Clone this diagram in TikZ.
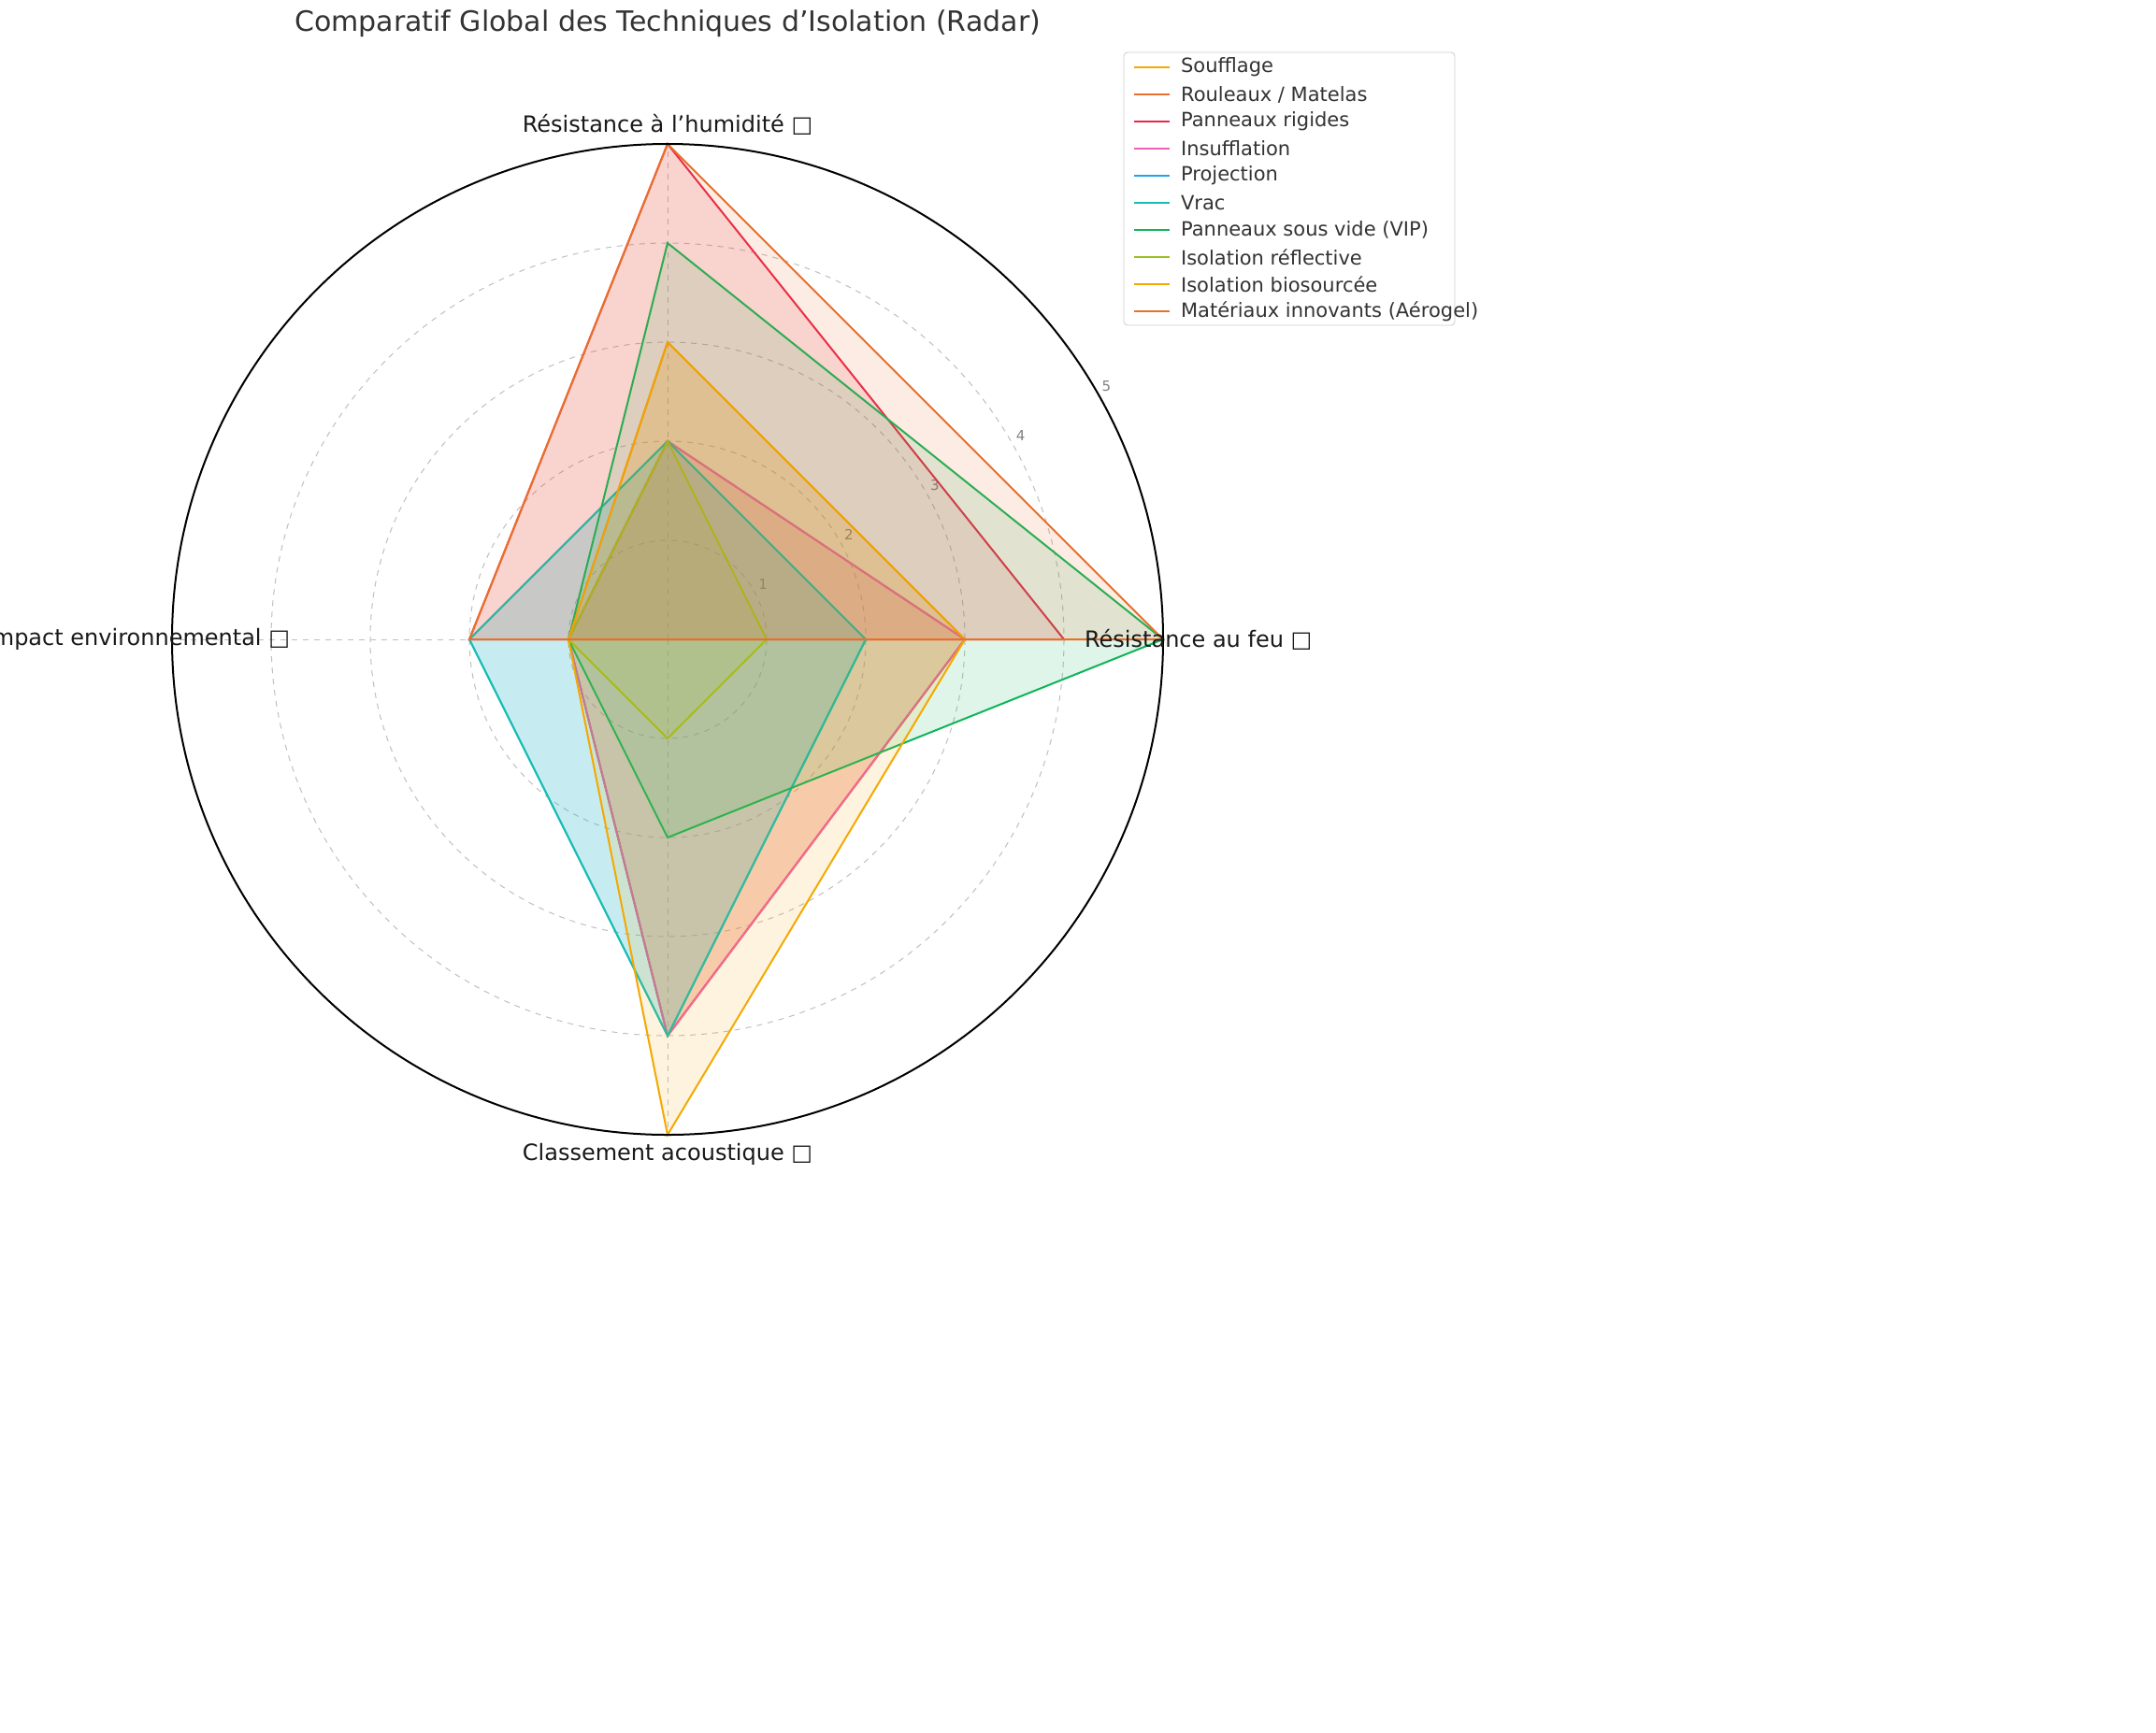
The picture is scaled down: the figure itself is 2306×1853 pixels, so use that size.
\documentclass[tikz,border=0pt]{standalone}
\usepackage{fontspec}
\setmainfont{DejaVu Sans}
\usetikzlibrary{calc}
\begin{document}
\begin{tikzpicture}[x={(0.5pt,0pt)},y={(0pt,-0.5pt)},
  grid/.style={gray!50,dashed,line width=0.5pt},
  lbl/.style={font=\fontsize{12}{14}\selectfont,text=black!90},
  tick/.style={font=\fontsize{7.5}{9}\selectfont,text=gray},
  leg/.style={font=\fontsize{10.5}{12}\selectfont,text=black!80,anchor=west}]
\definecolor{c1}{HTML}{F5A800}
\definecolor{c2}{HTML}{E8702A}
\definecolor{c3}{HTML}{E8254A}
\definecolor{c4}{HTML}{F05FB5}
\definecolor{c5}{HTML}{1AA7E8}
\definecolor{c6}{HTML}{17BFB0}
\definecolor{c7}{HTML}{10B55A}
\definecolor{c8}{HTML}{9BBF1E}
\fill[white] (0,0) rectangle (2306,1853);
\coordinate (O) at (714,684);
\foreach \r in {1,2,3,4}{\draw[grid] (O) circle[radius=\r*106];}
\draw[grid] (O) -- ++(530,0); \draw[grid] (O) -- ++(-530,0);
\draw[grid] (O) -- ++(0,530); \draw[grid] (O) -- ++(0,-530);
\foreach \r in {1,...,5}{\node[tick] at ($(O)+({(\r*106+12)*cos(30)},{-(\r*106+12)*sin(30)})$) {\r};}
\foreach \c/\a/\b/\e/\d in {c1/3/3/1/4, c2/3/2/1/4, c3/4/5/2/0, c4/3/2/1/4, c5/2/2/2/4, c6/2/2/2/4, c7/5/4/1/2, c8/1/2/1/1, c1/3/3/1/5, c2/5/5/2/0}{
  \fill[\c,opacity=0.13] ($(O)+(\a*106,0)$) -- ($(O)+(0,-\b*106)$) -- ($(O)+(-\e*106,0)$) -- ($(O)+(0,\d*106)$) -- cycle;
  \draw[\c,line width=1pt] ($(O)+(\a*106,0)$) -- ($(O)+(0,-\b*106)$) -- ($(O)+(-\e*106,0)$) -- ($(O)+(0,\d*106)$) -- cycle;
}
\draw[black,line width=1pt] (O) circle[radius=530];
\node[lbl] (h) at (714,133) {Résistance à l’humidité □};
\node[lbl,anchor=west] (f) at (1153,684) {Résistance au feu □};
\node[lbl,anchor=east] (en) at (317,684) {Impact environnemental □};
\node[lbl] (ac) at (714,1235) {Classement acoustique □};
\node[font=\fontsize{15}{18}\selectfont,text=black!80] (t) at (714,25) {Comparatif Global des Techniques d'Isolation (Radar)};
\draw[gray!40,rounded corners=2pt,fill=white] (1202,56) rectangle (1556,348);
\foreach \c/\n [count=\i from 0] in {c1/{Soufflage}, c2/{Rouleaux / Matelas}, c3/{Panneaux rigides}, c4/{Insufflation}, c5/{Projection}, c6/{Vrac}, c7/{Panneaux sous vide (VIP)}, c8/{Isolation réflective}, c1/{Isolation biosourcée}, c2/{Matériaux innovants (Aérogel)}}{
  \draw[\c,line width=1pt] (1213,72+\i*29) -- (1251,72+\i*29);
  \node[leg] at (1256,72+\i*29) {\n};
}
\pgfresetboundingbox
\useasboundingbox (0,0) rectangle (2306,1853);
\end{tikzpicture}
\end{document}
